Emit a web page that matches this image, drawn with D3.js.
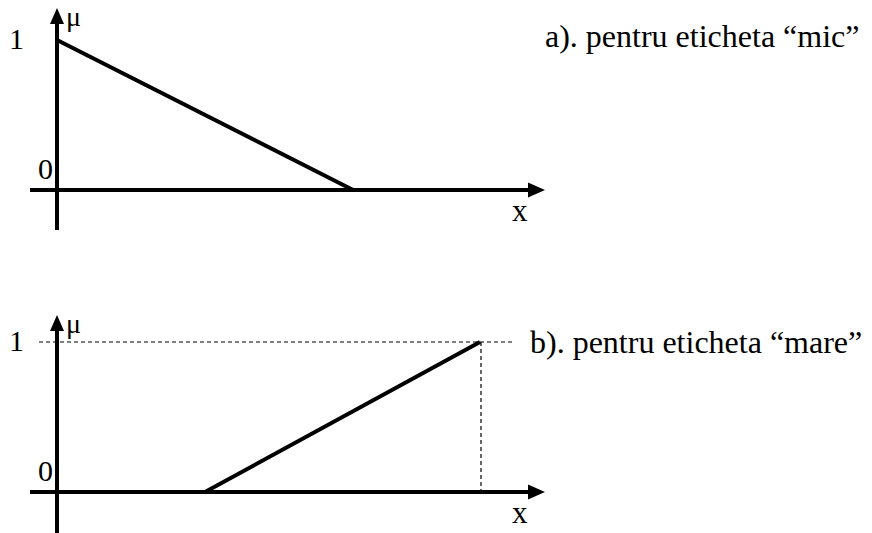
<!DOCTYPE html>
<html lang="ro">
<head>
    <meta charset="utf-8">
    <title>Functii de apartenenta</title>
    <script src="https://cdn.jsdelivr.net/npm/d3@7"></script>
    <style>
        body { margin: 0; background: #fff; }
        text { font-family: "Liberation Serif", "Times New Roman", serif; fill: #000; }
    </style>
</head>
<body>
    <script type="text/javascript">
        // date: functiile de apartenenta (x, mu)
        var micPoints = [[0, 1], [7, 0]];
        var marePoints = [[3.5, 0], [10, 1]];
        var panelLabels = ['a). pentru eticheta \u201cmic\u201d', 'b). pentru eticheta \u201cmare\u201d'];
        var yTicks = [0, 1];

        var svgWidth = 872;
        var svgHeight = 533;

        var svg = d3.select('body')
            .append('svg')
            .attr('width', svgWidth)
            .attr('height', svgHeight);

        var xScale = d3.scaleLinear()
            .domain([0, 10])
            .range([57, 480]);

        // arrowhead
        function arrow(g, x, y, dir) {
            var p;
            if (dir === 'up') p = [[x, y], [x - 7, y + 16], [x + 7, y + 16]];
            else p = [[x, y], [x - 17, y - 7.5], [x - 17, y + 7.5]];
            g.append('path')
                .attr('d', 'M' + p.join('L') + 'Z')
                .attr('fill', '#000');
        }

        function drawPanel(cfg) {
            var yScale = d3.scaleLinear()
                .domain([0, 1])
                .range([cfg.y0, cfg.y0 - 150]);
            var g = svg.append('g');

            // axes
            g.append('line')
                .attr('x1', 30).attr('x2', 530)
                .attr('y1', yScale(0)).attr('y2', yScale(0))
                .attr('stroke', '#000').attr('stroke-width', 4);
            arrow(g, 545, yScale(0), 'right');
            g.append('line')
                .attr('x1', xScale(0)).attr('x2', xScale(0))
                .attr('y1', cfg.yBottom).attr('y2', cfg.yTip + 14)
                .attr('stroke', '#000').attr('stroke-width', 4);
            arrow(g, xScale(0), cfg.yTip, 'up');

            // dashed guides
            if (cfg.dashed) {
                var last = cfg.points[cfg.points.length - 1];
                g.append('line')
                    .attr('x1', 39).attr('x2', 513)
                    .attr('y1', yScale(1)).attr('y2', yScale(1))
                    .attr('stroke', '#000').attr('stroke-width', 1.2)
                    .attr('stroke-dasharray', '4,3');
                g.append('line')
                    .attr('x1', xScale(last[0]) + 1).attr('x2', xScale(last[0]) + 1)
                    .attr('y1', yScale(1)).attr('y2', yScale(0))
                    .attr('stroke', '#000').attr('stroke-width', 1.2)
                    .attr('stroke-dasharray', '4,3');
            }

            // membership function
            var line = d3.line()
                .x(function (d) { return xScale(d[0]); })
                .y(function (d) { return yScale(d[1]); });
            g.append('path')
                .datum(cfg.points)
                .attr('d', line)
                .attr('fill', 'none')
                .attr('stroke', '#000')
                .attr('stroke-width', 4);

            // tick labels
            g.append('text')
                .attr('x', 24).attr('y', yScale(1) + 9)
                .attr('text-anchor', 'end')
                .attr('font-size', 30)
                .text(yTicks[1]);
            g.append('text')
                .attr('x', 53).attr('y', yScale(0) - 11)
                .attr('text-anchor', 'end')
                .attr('font-size', 30)
                .text(yTicks[0]);
            g.append('text')
                .attr('x', 66).attr('y', cfg.yTip + 18)
                .attr('font-size', 28)
                .text('\u03bc');
            g.append('text')
                .attr('x', 512).attr('y', yScale(0) + 31)
                .attr('font-size', 31)
                .text('x');

            g.append('text')
                .attr('x', cfg.labelX).attr('y', cfg.labelY)
                .attr('font-size', 32)
                .text(cfg.label);
        }

        drawPanel({ y0: 190, yTip: 8, yBottom: 230, points: micPoints, dashed: false,
            label: panelLabels[0], labelX: 545, labelY: 47 });
        drawPanel({ y0: 492, yTip: 315, yBottom: 540, points: marePoints, dashed: true,
            label: panelLabels[1], labelX: 530, labelY: 353 });
    </script>
</body>
</html>
